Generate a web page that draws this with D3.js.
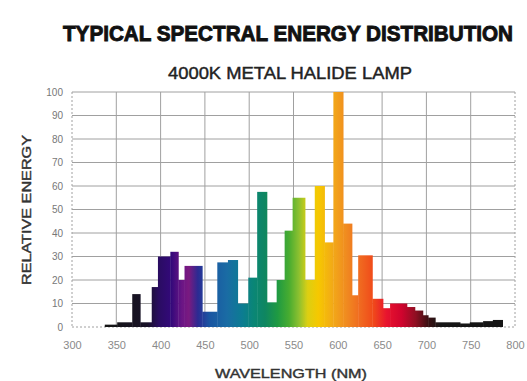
<!DOCTYPE html>
<html>
<head>
<meta charset="utf-8">
<script src="https://cdn.jsdelivr.net/npm/d3@7/dist/d3.min.js"></script>
<style>
  html, body { margin: 0; padding: 0; background: #fff; }
  svg { display: block; }
</style>
</head>
<body>
<svg id="chart" width="527" height="381"></svg>
<script>
// ---- data ----
const titleText = "TYPICAL SPECTRAL ENERGY DISTRIBUTION";
const subtitleText = "4000K METAL HALIDE LAMP";
const xTitle = "WAVELENGTH (NM)";
const yTitle = "RELATIVE ENERGY";

// bin edges (nm) and relative energy of each bin
const binEdges = [337, 351, 368, 377, 390, 397, 411, 420, 427, 447, 464, 476, 487, 499, 509, 520, 531, 540, 549, 563, 574, 585, 595, 606, 616, 623, 639, 651, 659, 678, 687, 696, 702, 710, 738, 749, 764, 775, 786];
const energy   = [1, 2, 14, 2, 17, 30, 32, 20, 26, 6.5, 27.5, 28.5, 10, 21, 57.5, 10.5, 20, 41, 55, 20, 60, 36, 100, 44, 13.5, 30.5, 12, 8, 10, 8.5, 7, 5, 4, 2, 1.5, 2, 2.5, 3];

const xTicks = [300, 350, 400, 450, 500, 550, 600, 650, 700, 750, 800];
const yTicks = [0, 10, 20, 30, 40, 50, 60, 70, 80, 90, 100];

// spectrum colour stops (wavelength nm -> colour)
const stopNm    = [340, 385, 398, 412, 424, 432, 442, 455, 475, 492, 505, 518, 532, 545, 556, 566, 578, 595, 610, 625, 640, 655, 672, 688, 702, 716, 800];
const stopColor = ["#151515", "#181228", "#2a0c62", "#33097a", "#6a1585", "#7a1a80", "#2c2a92", "#1a55a2", "#1a6ca4", "#0c7c92", "#0a8676", "#0f8660", "#1f9a42", "#48ac30", "#8cc030", "#dccf12", "#f6c800", "#f2a818", "#f08a20", "#f06a20", "#f04a1a", "#e8142e", "#d0042e", "#8e0f22", "#3a0f12", "#161616", "#161616"];

// ---- layout ----
const svg = d3.select("#chart");
const x = d3.scaleLinear().domain([300, 800]).range([72, 515]);
const y = d3.scaleLinear().domain([0, 100]).range([327, 92]);

// gradient
const defs = svg.append("defs");
const grad = defs.append("linearGradient")
  .attr("id", "spectrum")
  .attr("gradientUnits", "userSpaceOnUse")
  .attr("x1", x(300)).attr("x2", x(800))
  .attr("y1", 0).attr("y2", 0);
stopNm.forEach((nm, i) => {
  grad.append("stop")
    .attr("offset", (nm - 300) / 500)
    .attr("stop-color", stopColor[i]);
});

// grid
const grid = svg.append("g");
grid.selectAll("line.v").data(xTicks).join("line")
  .attr("x1", d => x(d)).attr("x2", d => x(d))
  .attr("y1", y(100)).attr("y2", y(0))
  .attr("stroke", "#a0a0a0").attr("stroke-width", 1)
  .attr("stroke-dasharray", (d, i) => (i === 0 || i === xTicks.length - 1) ? "2,2" : null);
grid.selectAll("line.h").data(yTicks).join("line")
  .attr("x1", x(300)).attr("x2", x(800))
  .attr("y1", d => y(d)).attr("y2", d => y(d))
  .attr("stroke", "#a0a0a0").attr("stroke-width", 1)
  .attr("stroke-dasharray", (d, i) => i === 0 ? "2,2" : null);

// bars
const bins = energy.map((v, i) => ({ x0: binEdges[i], x1: binEdges[i + 1], v }));
svg.append("g").selectAll("rect").data(bins).join("rect")
  .attr("x", d => x(d.x0))
  .attr("width", d => x(d.x1) - x(d.x0) + 0.4)
  .attr("y", d => y(d.v))
  .attr("height", d => y(0) - y(d.v))
  .attr("fill", "url(#spectrum)");

// axes
const xAxis = d3.axisBottom(x).tickValues(xTicks).tickSize(0).tickPadding(0);
const gx = svg.append("g").attr("transform", `translate(0, ${y(0) + 22})`).call(xAxis);
gx.select(".domain").remove();
gx.selectAll("text")
  .attr("font-family", "Liberation Sans, Arial, sans-serif")
  .attr("font-size", 11).attr("fill", "#8a8a8a").attr("dy", 0);

const yAxis = d3.axisLeft(y).tickValues(yTicks).tickSize(0).tickPadding(0);
const gy = svg.append("g").attr("transform", `translate(63, 0)`).call(yAxis);
gy.select(".domain").remove();
gy.selectAll("text")
  .attr("font-family", "Liberation Sans, Arial, sans-serif")
  .attr("font-size", 10).attr("fill", "#777");

// titles
svg.append("text")
  .attr("transform", "translate(63, 41) scale(1, 1.15)")
  .attr("x", 0).attr("y", 0)
  .attr("font-family", "Liberation Sans, Arial, sans-serif")
  .attr("font-weight", "bold").attr("font-size", 19)
  .attr("fill", "#111").attr("stroke", "#111").attr("stroke-width", 0.8)
  .attr("textLength", 450).attr("lengthAdjust", "spacingAndGlyphs")
  .text(titleText);

svg.append("text")
  .attr("x", 168).attr("y", 79)
  .attr("font-family", "Liberation Sans, Arial, sans-serif")
  .attr("font-size", 16).attr("fill", "#222")
  .attr("stroke", "#222").attr("stroke-width", 0.4)
  .attr("textLength", 244).attr("lengthAdjust", "spacingAndGlyphs")
  .text(subtitleText);

svg.append("text")
  .attr("x", 215).attr("y", 378)
  .attr("font-family", "Liberation Sans, Arial, sans-serif")
  .attr("font-size", 13).attr("fill", "#333")
  .attr("stroke", "#333").attr("stroke-width", 0.4)
  .attr("textLength", 152).attr("lengthAdjust", "spacingAndGlyphs")
  .text(xTitle);

svg.append("text")
  .attr("transform", "translate(31, 285) rotate(-90)")
  .attr("x", 0).attr("y", 0)
  .attr("font-family", "Liberation Sans, Arial, sans-serif")
  .attr("font-size", 13).attr("fill", "#333")
  .attr("stroke", "#333").attr("stroke-width", 0.4)
  .attr("textLength", 150).attr("lengthAdjust", "spacingAndGlyphs")
  .text(yTitle);
</script>
</body>
</html>
